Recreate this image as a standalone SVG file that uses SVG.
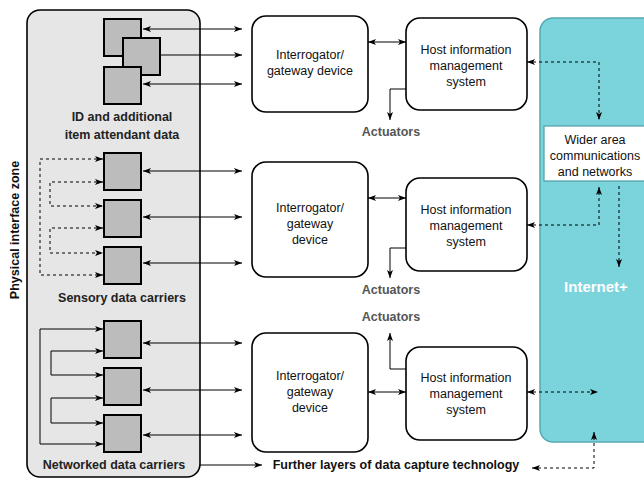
<svg xmlns="http://www.w3.org/2000/svg" width="644" height="480" viewBox="0 0 644 480">
<defs>
<marker id="ah" viewBox="0 0 8 6" refX="8" refY="3" markerWidth="8" markerHeight="6" markerUnits="userSpaceOnUse" orient="auto-start-reverse">
<path d="M0,0 L8,3 L0,6 L2,3 Z" fill="#000"/>
</marker>
</defs>
<style>
.panel{fill:#e6e6e6;stroke:#000;stroke-width:1.6}
.sq{fill:#bcbcbc;stroke:#000;stroke-width:2}
.box{fill:#fff;stroke:#000;stroke-width:1.6}
.ln{fill:none;stroke:#000;stroke-width:1}
.dl{fill:none;stroke:#000;stroke-width:1;stroke-dasharray:3,3}
.t{font-family:"Liberation Sans",Arial,sans-serif;font-size:12.5px;fill:#111;text-anchor:middle}
.b{font-family:"Liberation Sans",Arial,sans-serif;font-size:12.5px;font-weight:bold;text-anchor:middle}
</style>
<g id="physical-zone">
<rect class="panel" x="27" y="10" width="173" height="467" rx="13"/>
<text class="b" fill="#111" transform="translate(19,230) rotate(-90)">Physical interface zone</text>
</g>
<g id="internet">
<rect x="540" y="18" width="120" height="424" rx="13" fill="#7bd3dc" stroke="#55a9b3" stroke-width="1.5"/>
<text class="b" fill="#fff" x="596" y="292" style="font-size:15px">Internet+</text>
</g>
<g id="wider-area">
<rect x="544" y="126" width="110" height="55" fill="#fff" stroke="#4f9ea6" stroke-width="1.2"/>
<text class="t" x="595" y="144">Wider area</text>
<text class="t" x="595" y="160">communications</text>
<text class="t" x="595" y="176">and networks</text>
</g>
<g id="id-carriers">
<rect class="sq" x="104" y="19" width="37" height="37"/>
<rect class="sq" x="123" y="38" width="37" height="37"/>
<rect class="sq" x="104" y="67" width="37" height="37"/>
<text class="b" fill="#222" x="122" y="121">ID and additional</text>
<text class="b" fill="#222" x="122" y="139">item attendant data</text>
</g>
<g id="sensory-carriers">
<rect class="sq" x="104" y="153" width="37" height="37"/>
<rect class="sq" x="104" y="200" width="37" height="37"/>
<rect class="sq" x="104" y="247" width="37" height="37"/>
<text class="b" fill="#222" x="122" y="302">Sensory data carriers</text>
</g>
<g id="networked-carriers">
<rect class="sq" x="104" y="321" width="37" height="37"/>
<rect class="sq" x="104" y="368" width="37" height="37"/>
<rect class="sq" x="104" y="415" width="37" height="37"/>
<text class="b" fill="#222" x="114" y="469">Networked data carriers</text>
</g>
<g id="interrogator-1">
<rect class="box" x="252" y="16" width="116" height="96" rx="14"/>
<text class="t" x="310" y="59">Interrogator/</text>
<text class="t" x="310" y="75">gateway device</text>
</g>
<g id="interrogator-2">
<rect class="box" x="252" y="162" width="116" height="115" rx="14"/>
<text class="t" x="310" y="212">Interrogator/</text>
<text class="t" x="310" y="228">gateway</text>
<text class="t" x="310" y="244">device</text>
</g>
<g id="interrogator-3">
<rect class="box" x="252" y="333" width="116" height="119" rx="14"/>
<text class="t" x="310" y="380">Interrogator/</text>
<text class="t" x="310" y="396">gateway</text>
<text class="t" x="310" y="412">device</text>
</g>
<g id="host-1">
<rect class="box" x="406" y="18" width="121" height="92" rx="14"/>
<text class="t" x="466" y="54">Host information</text>
<text class="t" x="466" y="70">management</text>
<text class="t" x="466" y="86">system</text>
</g>
<g id="host-2">
<rect class="box" x="406" y="178" width="121" height="93" rx="14"/>
<text class="t" x="466" y="214">Host information</text>
<text class="t" x="466" y="230">management</text>
<text class="t" x="466" y="246">system</text>
</g>
<g id="host-3">
<rect class="box" x="406" y="347" width="121" height="93" rx="14"/>
<text class="t" x="466" y="382">Host information</text>
<text class="t" x="466" y="398">management</text>
<text class="t" x="466" y="414">system</text>
</g>
<g id="labels">
<text class="b" fill="#555" x="391" y="136">Actuators</text>
<text class="b" fill="#555" x="391" y="294">Actuators</text>
<text class="b" fill="#555" x="391" y="321">Actuators</text>
<text class="b" fill="#111" x="396" y="469">Further layers of data capture technology</text>
</g>
<g id="connectors">
<line class="ln" x1="143" y1="29" x2="242" y2="29" marker-start="url(#ah)" marker-end="url(#ah)"/>
<line class="ln" x1="160" y1="55" x2="242" y2="55" marker-end="url(#ah)"/>
<line class="ln" x1="143" y1="84" x2="242" y2="84" marker-start="url(#ah)" marker-end="url(#ah)"/>
<line class="ln" x1="143" y1="171" x2="242" y2="171" marker-start="url(#ah)" marker-end="url(#ah)"/>
<line class="ln" x1="143" y1="217" x2="242" y2="217" marker-start="url(#ah)" marker-end="url(#ah)"/>
<line class="ln" x1="143" y1="263" x2="242" y2="263" marker-start="url(#ah)" marker-end="url(#ah)"/>
<line class="ln" x1="143" y1="343" x2="242" y2="343" marker-start="url(#ah)" marker-end="url(#ah)"/>
<line class="ln" x1="143" y1="390" x2="242" y2="390" marker-start="url(#ah)" marker-end="url(#ah)"/>
<line class="ln" x1="143" y1="435" x2="242" y2="435" marker-start="url(#ah)" marker-end="url(#ah)"/>
<path class="dl" d="M103,159 H40 V275 H103" marker-start="url(#ah)" marker-end="url(#ah)"/>
<path class="dl" d="M103,182 H50 V206 H103" marker-start="url(#ah)" marker-end="url(#ah)"/>
<path class="dl" d="M103,228 H50 V253 H103" marker-start="url(#ah)" marker-end="url(#ah)"/>
<path class="ln" d="M103,329 H40 V444 H103" marker-start="url(#ah)" marker-end="url(#ah)"/>
<path class="ln" d="M103,351 H51 V375 H103" marker-start="url(#ah)" marker-end="url(#ah)"/>
<path class="ln" d="M103,398 H51 V423 H103" marker-start="url(#ah)" marker-end="url(#ah)"/>
<line class="ln" x1="368" y1="42" x2="406" y2="42" marker-start="url(#ah)" marker-end="url(#ah)"/>
<line class="ln" x1="368" y1="198" x2="406" y2="198" marker-start="url(#ah)" marker-end="url(#ah)"/>
<line class="ln" x1="368" y1="392" x2="406" y2="392" marker-start="url(#ah)" marker-end="url(#ah)"/>
<path class="ln" d="M406,89 H390 V120" marker-end="url(#ah)"/>
<path class="ln" d="M406,248 H390 V278" marker-end="url(#ah)"/>
<path class="ln" d="M406,369 H390 V333" marker-end="url(#ah)"/>
<path class="dl" d="M527,62 H599 V120" marker-start="url(#ah)" marker-end="url(#ah)"/>
<path class="dl" d="M527,225 H599 V187" marker-start="url(#ah)" marker-end="url(#ah)"/>
<path class="dl" d="M619,186 V267" marker-end="url(#ah)"/>
<line class="dl" x1="527" y1="392" x2="598" y2="392" marker-start="url(#ah)" marker-end="url(#ah)"/>
<path class="dl" d="M532,468 H594 V432" marker-start="url(#ah)" marker-end="url(#ah)"/>
<line class="ln" x1="200" y1="465" x2="262" y2="465" marker-end="url(#ah)"/>
</g>
</svg>
